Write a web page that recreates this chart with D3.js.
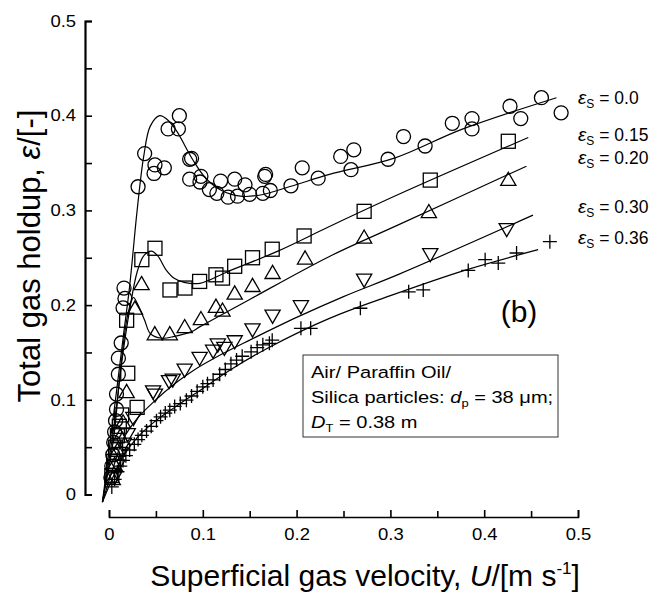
<!DOCTYPE html>
<html>
<head>
<meta charset="utf-8">
<script src="https://cdn.jsdelivr.net/npm/d3@7"></script>
<style>
  body { margin: 0; background: #fff; }
  svg { display: block; }
  text { font-family: "Liberation Sans", Arial, Helvetica, sans-serif; fill: #000; }
</style>
</head>
<body>
<div id="chart"></div>
<script>
// holdup data, [U m/s, holdup]
const circles00 = [
  [0.002,0.018],[0.003,0.03],[0.004,0.042],[0.005,0.055],[0.006,0.066],[0.007,0.078],[0.008,0.09],
  [0.008,0.106],[0.010,0.127],[0.010,0.144],[0.013,0.160],[0.015,0.197],[0.017,0.207],[0.016,0.218],
  [0.031,0.325],[0.038,0.360],[0.049,0.348],[0.059,0.345],[0.048,0.339],[0.063,0.386],[0.075,0.400],
  [0.074,0.386],[0.086,0.354],[0.088,0.355],[0.086,0.333],[0.098,0.336],[0.097,0.330],[0.107,0.322],
  [0.115,0.318],[0.119,0.331],[0.127,0.314],[0.134,0.333],[0.137,0.315],[0.145,0.327],[0.150,0.317],
  [0.164,0.318],[0.166,0.336],[0.167,0.338],[0.172,0.321],[0.194,0.326],[0.206,0.345],[0.223,0.334],
  [0.247,0.357],[0.261,0.364],[0.258,0.343],[0.2975,0.354],[0.314,0.378],[0.337,0.368],[0.366,0.392],
  [0.387,0.397],[0.387,0.386],[0.4275,0.410],[0.439,0.397],[0.461,0.419],[0.482,0.403]
];
const squares15 = [
  [0.003,0.02],[0.005,0.035],[0.007,0.05],[0.009,0.062],[0.011,0.072],[0.0135,0.084],[0.020,0.128],
  [0.0188,0.184],[0.030,0.092],[0.035,0.248],[0.049,0.260],[0.065,0.216],[0.081,0.218],[0.0966,0.225],
  [0.114,0.232],[0.121,0.2285],[0.134,0.241],[0.153,0.250],[0.174,0.259],[0.208,0.273],[0.272,0.299],
  [0.3425,0.332],[0.4257,0.373]
];
const triangles20 = [
  [0.004,0.015],[0.006,0.03],[0.009,0.045],[0.012,0.06],[0.015,0.075],[0.0188,0.107],[0.0276,0.195],
  [0.0347,0.221],[0.0488,0.168],[0.0648,0.168],[0.0807,0.1755],[0.098,0.184],[0.114,0.197],[0.121,0.193],
  [0.134,0.211],[0.153,0.219],[0.1744,0.2327],[0.209,0.248],[0.272,0.270],[0.341,0.297],[0.4257,0.331]
];
const down30 = [
  [0.006,0.02],[0.009,0.032],[0.012,0.045],[0.016,0.055],[0.020,0.065],[0.026,0.082],[0.047,0.110],
  [0.049,0.1067],[0.064,0.121],[0.068,0.1225],[0.0807,0.133],[0.0966,0.1455],[0.111,0.153],[0.116,0.1596],
  [0.123,0.156],[0.134,0.163],[0.153,0.1755],[0.1744,0.190],[0.2046,0.200],[0.272,0.228],[0.3425,0.255],
  [0.424,0.2815]
];
const plus36 = [
  [0.003,0.008],[0.006,0.016],[0.009,0.024],[0.012,0.030],[0.015,0.036],[0.018,0.041],
  [0.022,0.047],[0.027,0.053],[0.031,0.058],[0.035,0.0625],[0.040,0.067],[0.045,0.072],[0.0506,0.078],
  [0.055,0.082],[0.060,0.086],[0.0648,0.089],[0.070,0.093],[0.076,0.096],[0.0825,0.0996],[0.088,0.104],
  [0.094,0.109],[0.100,0.1137],[0.105,0.117],[0.111,0.121],[0.118,0.127],[0.124,0.132],[0.130,0.138],
  [0.136,0.142],[0.142,0.146],[0.1515,0.1507],[0.158,0.155],[0.164,0.158],[0.171,0.1596],[0.174,0.163],
  [0.2046,0.1755],[0.215,0.1755],[0.268,0.1967],[0.3195,0.214],[0.335,0.216],[0.383,0.2366],
  [0.401,0.248],[0.415,0.2444],[0.4345,0.255],[0.470,0.267]
];

// model lines
const fit00 = [[-0.007,-0.008],[0.005,0.085],[0.015,0.165],[0.022,0.22],[0.030,0.30],[0.037,0.357],
  [0.044,0.389],[0.054,0.400],[0.062,0.396],[0.072,0.384],[0.089,0.354],[0.104,0.333],[0.120,0.321],
  [0.140,0.315],[0.160,0.316],[0.194,0.3255],[0.235,0.338],[0.305,0.3555],[0.376,0.3856],[0.477,0.419]];
const fit15 = [[-0.007,-0.008],[0.005,0.07],[0.015,0.15],[0.022,0.195],[0.030,0.235],[0.037,0.252],
  [0.045,0.257],[0.052,0.252],[0.061,0.237],[0.070,0.228],[0.080,0.224],[0.097,0.223],[0.127,0.2355],
  [0.180,0.257],[0.235,0.283],[0.309,0.317],[0.447,0.377]];
const fit20 = [[-0.007,-0.008],[0.005,0.06],[0.012,0.13],[0.020,0.19],[0.026,0.208],[0.031,0.200],
  [0.038,0.184],[0.044,0.170],[0.056,0.165],[0.070,0.167],[0.088,0.172],[0.0966,0.177],[0.150,0.206],
  [0.235,0.2514],[0.309,0.285],[0.445,0.3467]];
const fit30 = [[-0.007,-0.008],[0.005,0.03],[0.015,0.058],[0.030,0.080],[0.050,0.100],[0.070,0.117],
  [0.090,0.131],[0.120,0.148],[0.150,0.163],[0.200,0.187],[0.250,0.209],[0.310,0.233],[0.452,0.295]];
const fit36 = [[-0.007,-0.008],[0.005,0.02],[0.015,0.04],[0.030,0.06],[0.050,0.078],[0.070,0.092],
  [0.100,0.112],[0.130,0.132],[0.170,0.155],[0.235,0.186],[0.300,0.210],[0.380,0.237],[0.4575,0.2585]];

const seriesLabels = ['0.0', '0.15', '0.20', '0.30', '0.36'];
const labelY = [0.412, 0.373, 0.349, 0.297, 0.2645];
const majorTicks = [0, 0.1, 0.2, 0.3, 0.4, 0.5];
const minorTicks = [0.05, 0.15, 0.25, 0.35, 0.45];

const W = 655, H = 593;
const svg = d3.select('#chart').append('svg').attr('width', W).attr('height', H);

const x = d3.scaleLinear().domain([0, 0.5]).range([109, 578]);
const y = d3.scaleLinear().domain([0, 0.5]).range([494.5, 21]);
const fmt = d => d === 0 ? '0' : d.toFixed(1);

// y axis, ticks pointing inward
const yAxis = svg.append('g').attr('transform', 'translate(85,0)')
  .call(d3.axisLeft(y).tickValues(majorTicks).tickSizeInner(-7).tickSizeOuter(-7).tickPadding(8).tickFormat(fmt));
svg.append('g').attr('transform', 'translate(85,0)')
  .call(d3.axisLeft(y).tickValues(minorTicks).tickSize(-7).tickFormat(''))
  .call(g => g.select('.domain').remove());

// x axis, detached below
const xAxis = svg.append('g').attr('transform', 'translate(0,517)')
  .call(d3.axisBottom(x).tickValues(majorTicks).tickSizeInner(-7).tickSizeOuter(-7).tickPadding(11).tickFormat(fmt));
svg.append('g').attr('transform', 'translate(0,517)')
  .call(d3.axisBottom(x).tickValues(minorTicks).tickSize(-6).tickFormat(''))
  .call(g => g.select('.domain').remove());

svg.selectAll('.tick line').attr('stroke', '#000').attr('stroke-width', 1.6);
yAxis.select('.domain').attr('stroke', '#000').attr('stroke-width', 2.2);
xAxis.select('.domain').attr('stroke', '#000').attr('stroke-width', 1.6);
svg.selectAll('.tick text')
  .attr('font-size', 16.5)
  .attr('font-family', '"Liberation Sans", Arial, sans-serif')
  .attr('fill', '#000')
  .attr('transform', 'scale(1.12,1)');

// fitted lines
const line = d3.line().x(d => x(d[0])).y(d => y(d[1])).curve(d3.curveCatmullRom.alpha(0.5));
[fit00, fit15, fit20, fit30, fit36].forEach(f => {
  svg.append('path').datum(f).attr('d', line)
    .attr('fill', 'none').attr('stroke', '#000').attr('stroke-width', 1.2);
});

// markers
const mk = svg.append('g').attr('fill', 'none').attr('stroke', '#000').attr('stroke-width', 1.3);
mk.selectAll('.c').data(circles00).join('circle').attr('class', 'c')
  .attr('cx', d => x(d[0])).attr('cy', d => y(d[1])).attr('r', 7);
mk.selectAll('.s').data(squares15).join('rect').attr('class', 's')
  .attr('x', d => x(d[0]) - 7).attr('y', d => y(d[1]) - 7).attr('width', 14).attr('height', 14);
const tri = d3.symbol().type(d3.symbolTriangle).size(100);
mk.selectAll('.t').data(triangles20).join('path').attr('class', 't')
  .attr('d', tri).attr('transform', d => `translate(${x(d[0])},${y(d[1])})`);
mk.selectAll('.v').data(down30).join('path').attr('class', 'v')
  .attr('d', tri).attr('transform', d => `translate(${x(d[0])},${y(d[1])}) rotate(180)`);
mk.selectAll('.p').data(plus36).join('path').attr('class', 'p')
  .attr('d', d => {
    const px = x(d[0]), py = y(d[1]);
    return `M${px - 7},${py}H${px + 7}M${px},${py - 7}V${py + 7}`;
  });

// series labels on the right
seriesLabels.forEach((lab, i) => {
  const t = svg.append('text').attr('x', 578).attr('y', y(labelY[i])).attr('font-size', 17.5);
  t.append('tspan').attr('font-style', 'italic').attr('font-size', 19).text('ε');
  t.append('tspan').attr('font-size', 12).attr('dy', 4).text('S');
  t.append('tspan').attr('dy', -4).text(' = ' + lab);
});

// panel letter
svg.append('text').attr('x', 519).attr('y', 322).attr('text-anchor', 'middle')
  .attr('font-size', 30).text('(b)');

// conditions box
svg.append('rect').attr('x', 303).attr('y', 355).attr('width', 255).attr('height', 82)
  .attr('fill', 'none').attr('stroke', '#333').attr('stroke-width', 1);
const box = svg.append('g').attr('font-size', 17);
box.append('text').attr('transform', 'translate(311,378) scale(1.18,1)').text('Air/ Paraffin Oil/');
const l2 = box.append('text').attr('transform', 'translate(311,403) scale(1.18,1)');
l2.append('tspan').text('Silica particles: ');
l2.append('tspan').attr('font-style', 'italic').text('d');
l2.append('tspan').attr('font-size', 11).attr('dy', 4).text('p');
l2.append('tspan').attr('dy', -4).text(' = 38 μm;');
const l3 = box.append('text').attr('transform', 'translate(311,428) scale(1.18,1)');
l3.append('tspan').attr('font-style', 'italic').text('D');
l3.append('tspan').attr('font-size', 11).attr('dy', 4).text('T');
l3.append('tspan').attr('dy', -4).text(' = 0.38 m');

// axis titles
const xt = svg.append('text').attr('x', 365).attr('y', 586).attr('text-anchor', 'middle').attr('font-size', 30);
xt.append('tspan').text('Superficial gas velocity, ');
xt.append('tspan').attr('font-style', 'italic').text('U');
xt.append('tspan').text('/[m s');
xt.append('tspan').attr('font-size', 17).attr('dy', -12).text('-1');
xt.append('tspan').attr('dy', 12).text(']');

const yt = svg.append('text').attr('transform', 'translate(40,256) rotate(-90)')
  .attr('text-anchor', 'middle').attr('font-size', 31);
yt.append('tspan').text('Total gas holdup, ');
yt.append('tspan').attr('font-style', 'italic').text('ε');
yt.append('tspan').text('/[-]');
</script>
</body>
</html>
